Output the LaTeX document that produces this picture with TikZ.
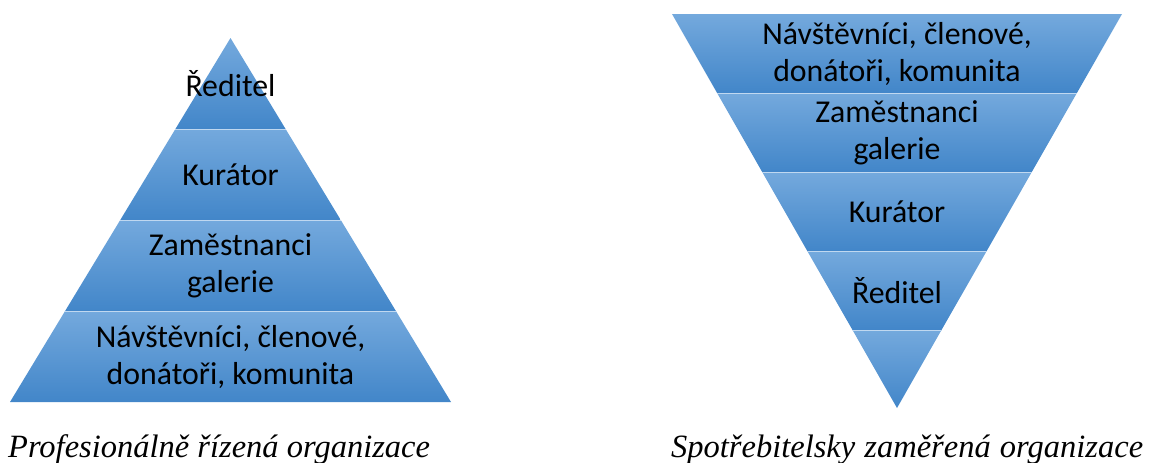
\documentclass[tikz,border=0pt]{standalone}
\usepackage{fontspec}
\setmainfont{Liberation Serif}
\newfontfamily\calibri{Carlito}
\usetikzlibrary{positioning}

\definecolor{pasnahore}{RGB}{116,169,221}
\definecolor{pasdole}{RGB}{66,134,201}

\begin{document}
\begin{tikzpicture}[
			x=1pt, y=-1pt,
			band/.style={top color=pasnahore, bottom color=pasdole, draw=none},
			seam/.style={draw=white!55!pasnahore, line width=0.8pt},
			popis/.style={font=\calibri\fontsize{31.8}{36.5}\selectfont, align=center, inner sep=0pt},
			titulek/.style={font=\itshape\fontsize{32.5}{38}\selectfont, inner sep=0pt, anchor=base west}
			]
			\useasboundingbox (0,0) rectangle (1149,463);
			
			% levá pyramida
			\shade [band] (230.5,38) -- (285.6,129) -- (175.4,129) -- cycle;
			\shade [band] (175.4,129) -- (285.6,129) -- (340.75,220) -- (120.25,220) -- cycle;
			\shade [band] (120.25,220) -- (340.75,220) -- (395.9,311) -- (65.1,311) -- cycle;
			\shade [band] (65.1,311) -- (395.9,311) -- (451,402) -- (10,402) -- cycle;
			\draw [seam] (175.4,129) -- (285.6,129);
			\draw [seam] (120.25,220) -- (340.75,220);
			\draw [seam] (65.1,311) -- (395.9,311);
			
			\node (L1) [popis] at (230.5,84) {Ředitel};
			\node (L2) [popis] at (230.5,175) {Kurátor};
			\node (L3) [popis] at (230.5,266) {Zaměstnanci\\galerie};
			\node (L4) [popis] at (230.5,357) {Návštěvníci, členové,\\donátoři, komunita};
			
			% pravá obrácená pyramida
			\shade [band] (672,14) -- (1122,14) -- (1076.9,93) -- (717.1,93) -- cycle;
			\shade [band] (717.1,93) -- (1076.9,93) -- (1031.8,172) -- (762.2,172) -- cycle;
			\shade [band] (762.2,172) -- (1031.8,172) -- (986.7,251) -- (807.3,251) -- cycle;
			\shade [band] (807.3,251) -- (986.7,251) -- (941.5,330) -- (852.5,330) -- cycle;
			\shade [band] (852.5,330) -- (941.5,330) -- (897,408) -- cycle;
			\draw [seam] (717.1,93) -- (1076.9,93);
			\draw [seam] (762.2,172) -- (1031.8,172);
			\draw [seam] (807.3,251) -- (986.7,251);
			\draw [seam] (852.5,330) -- (941.5,330);
			
			\node (P1) [popis] at (897,54) {Návštěvníci, členové,\\donátoři, komunita};
			\node (P2) [popis] at (897,133) {Zaměstnanci\\galerie};
			\node (P3) [popis] at (897,212) {Kurátor};
			\node (P4) [popis] at (897,291) {Ředitel};
			
			% popisky
			\node (LT) [titulek] at (8,457) {Profesionálně řízená organizace};
			\node (PT) [titulek] at (671,457) {Spotřebitelsky\hspace{1pt} zaměřená\hspace{1pt} organizace};
			
		\end{tikzpicture}
\end{document}
